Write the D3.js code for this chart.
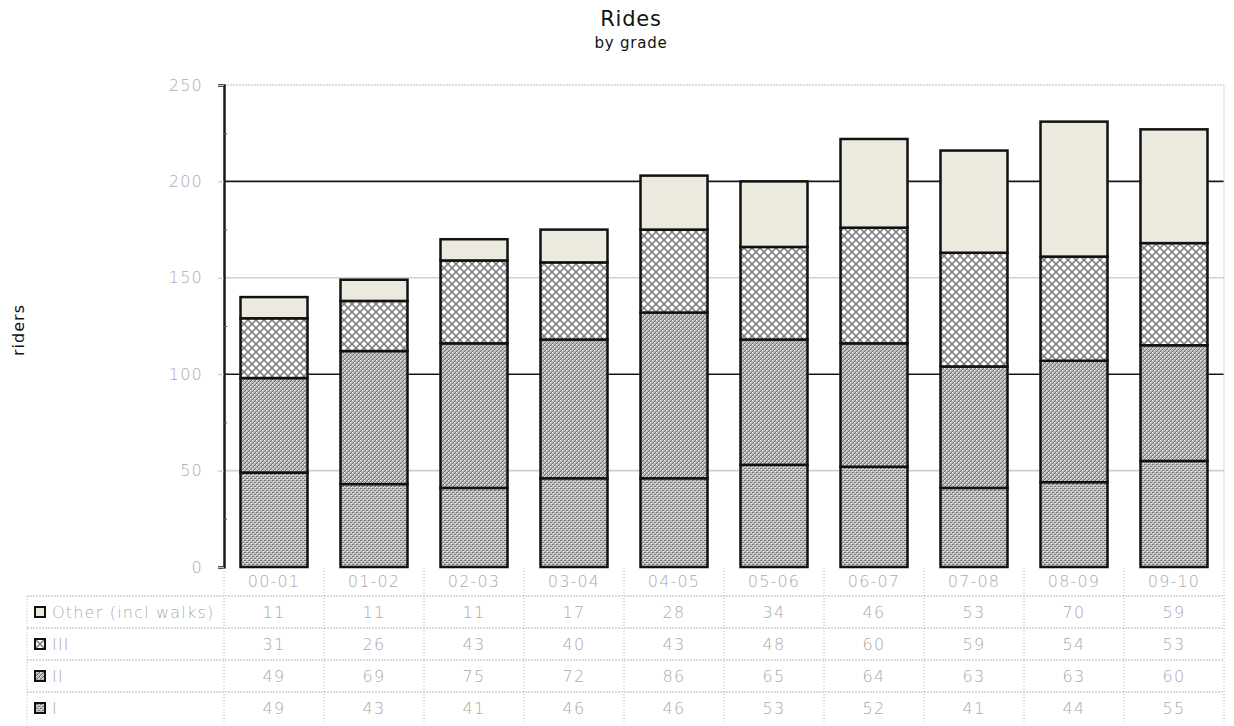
<!DOCTYPE html>
<html>
<head>
<meta charset="utf-8">
<script src="https://cdn.jsdelivr.net/npm/d3@7"></script>
<style>
body { margin: 0; background: #fff; }
text { font-family: "DejaVu Sans", sans-serif; }
.light { font-weight: 200; letter-spacing: 1.2px; }
</style>
</head>
<body>
<div id="container"></div>
<script>
// school years along the x axis
let years = ["00-01", "01-02", "02-03", "03-04", "04-05", "05-06", "06-07", "07-08", "08-09", "09-10"];
// rows of the data table, top to bottom
let seriesNames = ["Other (incl walks)", "III", "II", "I"];
let otherRides = [11, 11, 11, 17, 28, 34, 46, 53, 70, 59];
let gradeIII = [31, 26, 43, 40, 43, 48, 60, 59, 54, 53];
let gradeII = [49, 69, 75, 72, 86, 65, 64, 63, 63, 60];
let gradeI = [49, 43, 41, 46, 46, 53, 52, 41, 44, 55];
let yTicks = [0, 50, 100, 150, 200, 250];

let w = 1234;
let h = 726;
let plotLeft = 224;
let plotRight = 1224;
let plotTop = 85;
let plotBottom = 567;
let tableLeft = 27;
let rowH = 32;
let headerBottom = 596;

let viz = d3.select("#container")
  .append("svg")
    .attr("width", w)
    .attr("height", h)
    .style("background-color", "white");

// the library wants one object per year
let keys = ["I", "II", "III", "Other (incl walks)"]; // stacking order, bottom first
let seriesValues = {"Other (incl walks)": otherRides, "III": gradeIII, "II": gradeII, "I": gradeI};
let table = years.map(function(y, i){
  return {year: y, "I": gradeI[i], "II": gradeII[i], "III": gradeIII[i], "Other (incl walks)": otherRides[i]};
});
let stacked = d3.stack().keys(keys)(table);

let xScale = d3.scaleBand().domain(years).range([plotLeft, plotRight]).paddingInner(0.33).paddingOuter(0.165);
let yScale = d3.scaleLinear().domain([0, 250]).range([plotBottom, plotTop]);

// fill patterns (grey-scale hatches like the original)
let defs = viz.append("defs");
let pI = defs.append("pattern").attr("id", "pat-I").attr("width", 4).attr("height", 4).attr("patternUnits", "userSpaceOnUse");
pI.append("rect").attr("width", 4).attr("height", 4).attr("fill", "#bcbcbc");
pI.append("rect").attr("x", 0).attr("y", 0).attr("width", 2).attr("height", 1).attr("fill", "#747474");
pI.append("rect").attr("x", 2).attr("y", 2).attr("width", 2).attr("height", 1).attr("fill", "#747474");
pI.append("rect").attr("x", 1).attr("y", 1).attr("width", 1).attr("height", 1).attr("fill", "#f2f2f2");
pI.append("rect").attr("x", 3).attr("y", 3).attr("width", 1).attr("height", 1).attr("fill", "#f2f2f2");

let pII = defs.append("pattern").attr("id", "pat-II").attr("width", 4).attr("height", 4).attr("patternUnits", "userSpaceOnUse");
pII.append("rect").attr("width", 4).attr("height", 4).attr("fill", "#b8b8b8");
pII.append("path").attr("d", "M0,4 L4,0").attr("stroke", "#707070").attr("stroke-width", 1);
pII.append("rect").attr("x", 0).attr("y", 0).attr("width", 1).attr("height", 1).attr("fill", "#f0f0f0");
pII.append("rect").attr("x", 2).attr("y", 2).attr("width", 1).attr("height", 1).attr("fill", "#e6e6e6");

let pIII = defs.append("pattern").attr("id", "pat-III").attr("width", 8).attr("height", 8).attr("patternUnits", "userSpaceOnUse");
pIII.append("rect").attr("width", 8).attr("height", 8).attr("fill", "#f4f4f4");
pIII.append("path").attr("d", "M0,0 L8,8 M8,0 L0,8").attr("stroke", "#777777").attr("stroke-width", 1.4);
pIII.append("circle").attr("cx", 4).attr("cy", 0).attr("r", 1.5).attr("fill", "#ffffff");
pIII.append("circle").attr("cx", 4).attr("cy", 8).attr("r", 1.5).attr("fill", "#ffffff");
pIII.append("circle").attr("cx", 0).attr("cy", 4).attr("r", 1.5).attr("fill", "#ffffff");
pIII.append("circle").attr("cx", 8).attr("cy", 4).attr("r", 1.5).attr("fill", "#ffffff");

let fills = {"I": "url(#pat-I)", "II": "url(#pat-II)", "III": "url(#pat-III)", "Other (incl walks)": "#eceadf"};

// title
viz.append("text").attr("x", 631).attr("y", 26).attr("text-anchor", "middle")
  .style("font-size", "21px").style("letter-spacing", "0.8px").attr("fill", "#111").text("Rides");
viz.append("text").attr("x", 631).attr("y", 48).attr("text-anchor", "middle")
  .style("font-size", "15px").attr("fill", "#111").style("letter-spacing", "0.8px").text("by grade");

// y title
viz.append("text").attr("transform", "translate(24,330) rotate(-90)").attr("text-anchor", "middle")
  .style("font-size", "16px").attr("fill", "#111").style("letter-spacing", "1px").text("riders");

// grid lines
viz.selectAll(".grid").data(yTicks.filter(function(d){ return d > 0; })).enter()
  .append("line")
    .classed("grid", true)
    .attr("x1", plotLeft).attr("x2", plotRight)
    .attr("y1", function(d){ return yScale(d); })
    .attr("y2", function(d){ return yScale(d); })
    .attr("stroke", function(d){ return d % 100 == 0 ? "#1a1a1a" : "#d0d0d0"; })
    .attr("stroke-width", 1.6)
    .attr("stroke-dasharray", function(d){ return d == 250 ? "2,1" : null; });

// right border of plot
viz.append("line").attr("x1", plotRight).attr("x2", plotRight).attr("y1", plotTop).attr("y2", plotBottom)
  .attr("stroke", "#d8d8d8").attr("stroke-width", 1);

// bars
let layers = viz.selectAll(".layer").data(stacked).enter()
  .append("g")
    .classed("layer", true)
    .attr("fill", function(d){ return fills[d.key]; });

layers.selectAll("rect").data(function(d){ return d; }).enter()
  .append("rect")
    .attr("x", function(d){ return xScale(d.data.year); })
    .attr("y", function(d){ return yScale(d[1]); })
    .attr("width", xScale.bandwidth())
    .attr("height", function(d){ return yScale(d[0]) - yScale(d[1]); })
    .attr("stroke", "#111")
    .attr("stroke-width", 2.5);

// y axis
let yAxis = d3.axisLeft(yScale).tickValues(yTicks).tickSize(6).tickPadding(15);
let axisG = viz.append("g").attr("transform", "translate(" + plotLeft + ",0)").call(yAxis);
axisG.select(".domain").attr("stroke", "#1a1a1a").attr("stroke-width", 2.5);
axisG.selectAll(".tick line").attr("stroke", "#c0c0c0");
axisG.selectAll(".tick text").classed("light", true).attr("fill", "#aaaaaa")
  .style("font-size", "16px").style("font-family", "DejaVu Sans");
let minorAxis = d3.axisRight(yScale).tickValues([25, 75, 125, 175, 225]).tickSize(3).tickFormat("");
let minorG = viz.append("g").attr("transform", "translate(" + plotLeft + ",0)").call(minorAxis);
minorG.select(".domain").remove();
minorG.selectAll(".tick line").attr("stroke", "#555");

// data table under the plot
let tableBottom = headerBottom + rowH * seriesNames.length;
let dotted = "#b8b8b8";
// vertical separators at category boundaries
let bounds = years.map(function(y){ return xScale(y) - xScale.step() * xScale.paddingInner() / 2; });
bounds.push(plotRight);
viz.selectAll(".vsep").data(bounds).enter()
  .append("line")
    .classed("vsep", true)
    .attr("x1", function(d){ return d; }).attr("x2", function(d){ return d; })
    .attr("y1", plotBottom + 1).attr("y2", tableBottom)
    .attr("stroke", dotted).attr("stroke-dasharray", "1,2");
viz.append("line").attr("x1", tableLeft).attr("x2", tableLeft).attr("y1", headerBottom).attr("y2", tableBottom)
  .attr("stroke", dotted).attr("stroke-dasharray", "1,2");
// horizontal separators
let rowLines = d3.range(seriesNames.length).map(function(i){ return headerBottom + i * rowH; });
viz.selectAll(".hsep").data(rowLines).enter()
  .append("line")
    .classed("hsep", true)
    .attr("x1", tableLeft).attr("x2", plotRight)
    .attr("y1", function(d){ return d; }).attr("y2", function(d){ return d; })
    .attr("stroke", dotted).attr("stroke-dasharray", "2,1");

// category labels
viz.selectAll(".cat").data(years).enter()
  .append("text")
    .classed("cat", true)
    .classed("light", true)
    .attr("x", function(d){ return xScale(d) + xScale.bandwidth() / 2; })
    .attr("y", plotBottom + 20)
    .attr("text-anchor", "middle")
    .attr("fill", "#aaaaaa")
    .style("font-size", "16px")
    .text(function(d){ return d; });

// rows
let rows = viz.selectAll(".row").data(seriesNames).enter()
  .append("g")
    .classed("row", true)
    .attr("transform", function(d, i){ return "translate(0," + (headerBottom + i * rowH) + ")"; });
rows.append("rect")
  .attr("x", 35).attr("y", rowH / 2 - 5).attr("width", 10).attr("height", 10)
  .attr("fill", function(d){ return fills[d]; })
  .attr("stroke", "#111").attr("stroke-width", 2);
rows.append("text")
  .classed("light", true)
  .attr("x", 52).attr("y", rowH / 2 + 6)
  .attr("fill", "#aaaaaa")
  .style("font-size", "16px")
  .text(function(d){ return d; });
rows.selectAll(".val").data(function(d){ return seriesValues[d].map(function(v, i){ return {v: v, year: years[i]}; }); }).enter()
  .append("text")
    .classed("val", true)
    .classed("light", true)
    .attr("x", function(d){ return xScale(d.year) + xScale.bandwidth() / 2; })
    .attr("y", rowH / 2 + 6)
    .attr("text-anchor", "middle")
    .attr("fill", "#aaaaaa")
    .style("font-size", "16px")
    .text(function(d){ return d.v; });
</script>
</body>
</html>
